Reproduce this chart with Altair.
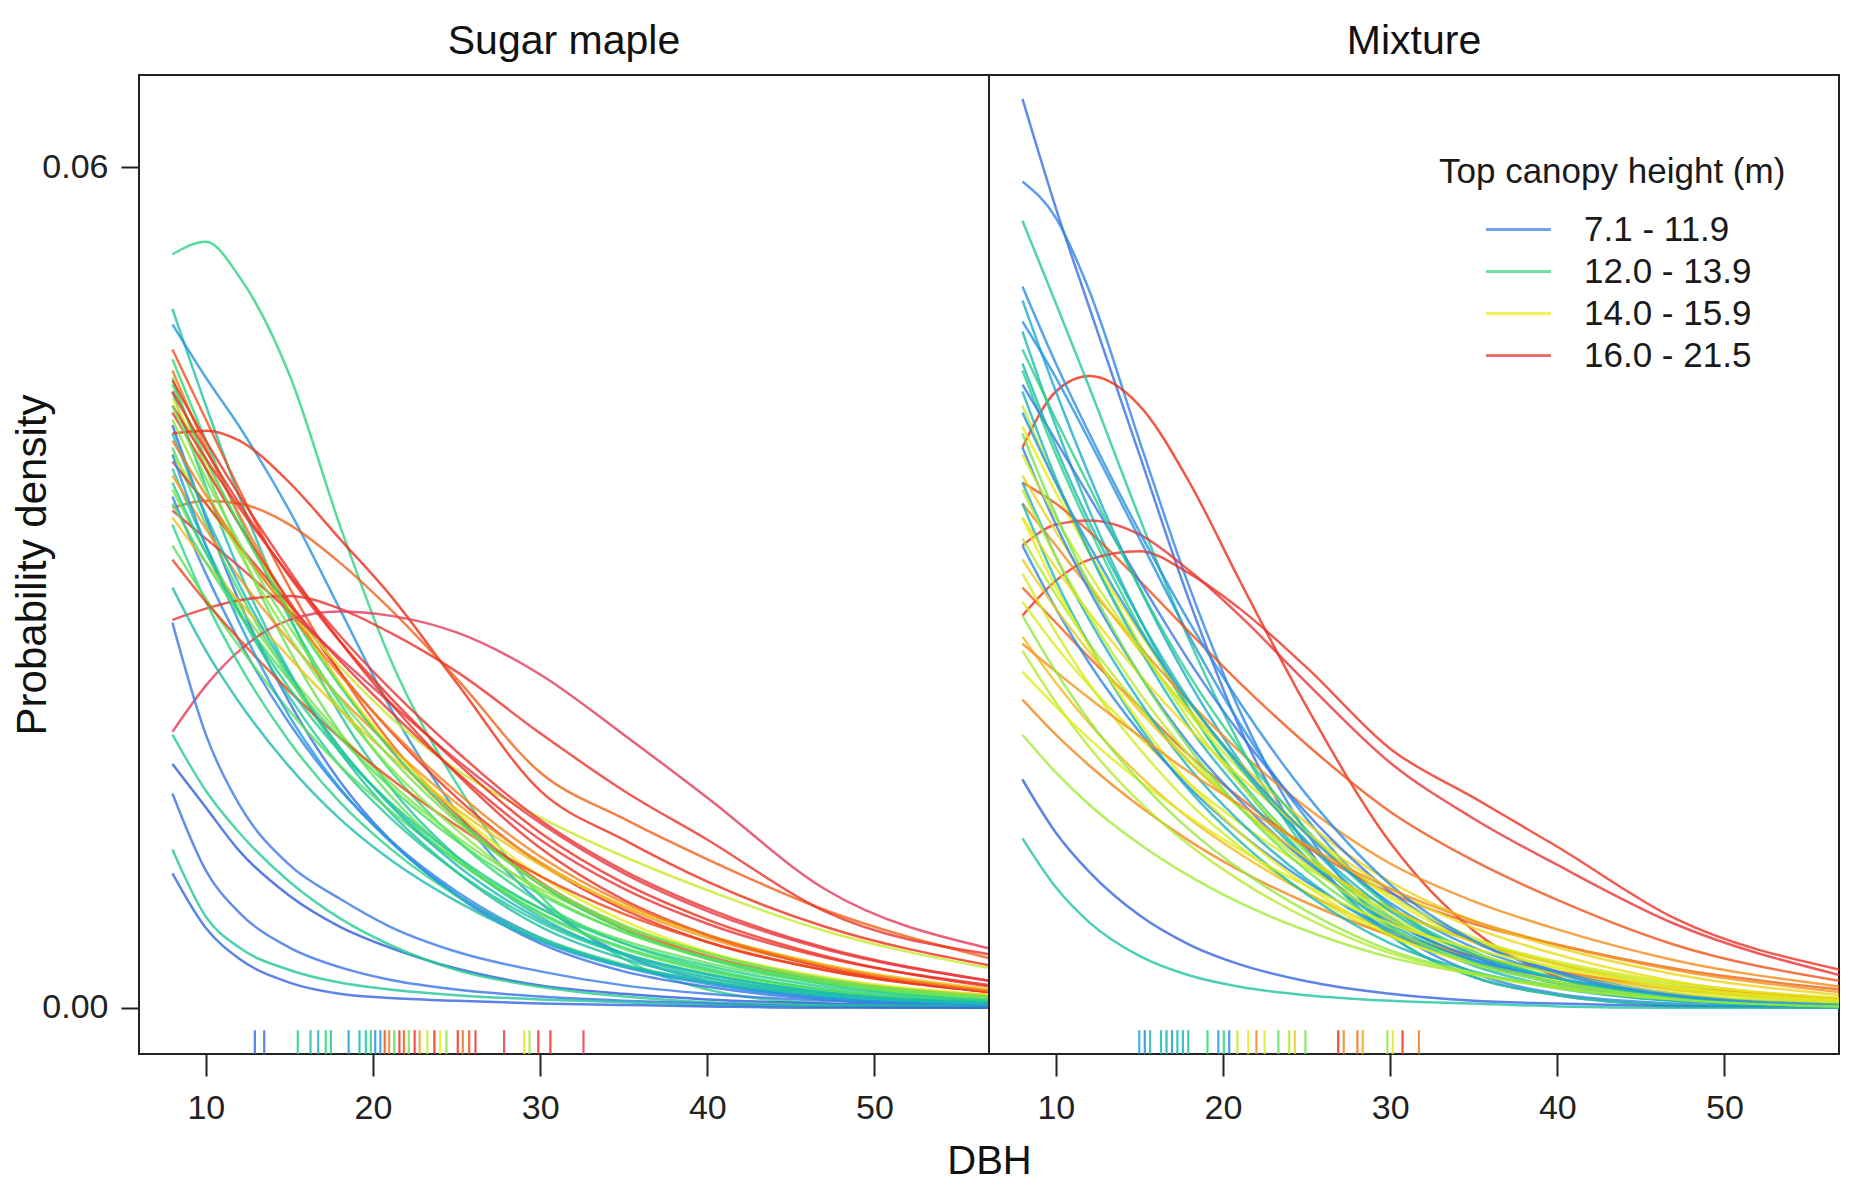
import altair as alt
import pandas as pd

FONT = "Liberation Sans"

X_GRID = [8, 10, 12, 15, 18, 21, 25, 30, 35, 40, 47, 57]

# ---------------- Sugar maple panel ----------------
SM_HEIGHT = [12.8, 12.3, 10.5, 17.0, 13.0, 16.5, 13.5, 12.2, 15.0, 18.0,
             9.0, 17.5, 16.8, 13.2, 14.5, 19.0, 12.5, 16.0, 13.7, 10.0,
             20.0, 18.5, 21.0, 9.5, 8.0, 12.6, 9.2, 12.4, 8.5, 12.8,
             13.4, 17.2, 10.8, 13.8, 12.1, 15.5, 13.1, 18.2, 12.0, 16.4,
             13.3, 17.8, 18.8, 13.6, 12.6]
SM_CURVES = [
    [0.0538, 0.0547, 0.0522, 0.0452, 0.0345, 0.0250, 0.0160, 0.0080, 0.0035, 0.0013, 0.0003, 0.0000],
    [0.0499, 0.0430, 0.0365, 0.0280, 0.0210, 0.0158, 0.0108, 0.0065, 0.0038, 0.0022, 0.0010, 0.0003],
    [0.0488, 0.0450, 0.0415, 0.0355, 0.0285, 0.0215, 0.0140, 0.0075, 0.0038, 0.0019, 0.0007, 0.0002],
    [0.0470, 0.0420, 0.0370, 0.0300, 0.0240, 0.0190, 0.0138, 0.0090, 0.0058, 0.0037, 0.0020, 0.0009],
    [0.0463, 0.0405, 0.0350, 0.0278, 0.0218, 0.0170, 0.0120, 0.0075, 0.0046, 0.0028, 0.0013, 0.0004],
    [0.0455, 0.0400, 0.0352, 0.0288, 0.0232, 0.0185, 0.0135, 0.0088, 0.0056, 0.0036, 0.0019, 0.0008],
    [0.0450, 0.0385, 0.0328, 0.0255, 0.0197, 0.0152, 0.0107, 0.0067, 0.0042, 0.0026, 0.0012, 0.0004],
    [0.0440, 0.0372, 0.0312, 0.0240, 0.0183, 0.0140, 0.0097, 0.0058, 0.0035, 0.0021, 0.0010, 0.0003],
    [0.0435, 0.0390, 0.0345, 0.0285, 0.0232, 0.0188, 0.0140, 0.0094, 0.0062, 0.0040, 0.0022, 0.0009],
    [0.0425, 0.0385, 0.0345, 0.0290, 0.0240, 0.0198, 0.0150, 0.0103, 0.0070, 0.0047, 0.0027, 0.0011],
    [0.0416, 0.0350, 0.0290, 0.0218, 0.0162, 0.0120, 0.0080, 0.0046, 0.0026, 0.0015, 0.0006, 0.0002],
    [0.0410, 0.0412, 0.0405, 0.0375, 0.0335, 0.0295, 0.0232, 0.0155, 0.0120, 0.0090, 0.0058, 0.0030],
    [0.0357, 0.0362, 0.0360, 0.0345, 0.0318, 0.0285, 0.0235, 0.0168, 0.0135, 0.0106, 0.0070, 0.0035],
    [0.0400, 0.0345, 0.0297, 0.0235, 0.0185, 0.0146, 0.0105, 0.0068, 0.0043, 0.0027, 0.0013, 0.0004],
    [0.0395, 0.0360, 0.0328, 0.0284, 0.0244, 0.0208, 0.0170, 0.0136, 0.0108, 0.0084, 0.0055, 0.0028],
    [0.0390, 0.0360, 0.0330, 0.0288, 0.0248, 0.0212, 0.0168, 0.0120, 0.0085, 0.0060, 0.0036, 0.0016],
    [0.0385, 0.0330, 0.0282, 0.0222, 0.0173, 0.0136, 0.0097, 0.0061, 0.0038, 0.0024, 0.0011, 0.0004],
    [0.0380, 0.0342, 0.0307, 0.0262, 0.0222, 0.0187, 0.0146, 0.0104, 0.0072, 0.0050, 0.0029, 0.0012],
    [0.0370, 0.0325, 0.0287, 0.0238, 0.0196, 0.0161, 0.0122, 0.0085, 0.0058, 0.0039, 0.0021, 0.0008],
    [0.0365, 0.0310, 0.0262, 0.0203, 0.0156, 0.0120, 0.0083, 0.0050, 0.0030, 0.0018, 0.0008, 0.0002],
    [0.0355, 0.0335, 0.0315, 0.0283, 0.0250, 0.0218, 0.0177, 0.0132, 0.0096, 0.0069, 0.0042, 0.0019],
    [0.0277, 0.0285, 0.0291, 0.0294, 0.0285, 0.0268, 0.0240, 0.0196, 0.0155, 0.0120, 0.0069, 0.0038],
    [0.0197, 0.0230, 0.0255, 0.0277, 0.0283, 0.0280, 0.0268, 0.0238, 0.0195, 0.0150, 0.0085, 0.0042],
    [0.0275, 0.0195, 0.0145, 0.0102, 0.0078, 0.0058, 0.0040, 0.0026, 0.0016, 0.0010, 0.0005, 0.0002],
    [0.0174, 0.0143, 0.0112, 0.0080, 0.0058, 0.0043, 0.0028, 0.0016, 0.0010, 0.0006, 0.0003, 0.0001],
    [0.0195, 0.0155, 0.0125, 0.0090, 0.0064, 0.0045, 0.0027, 0.0015, 0.0008, 0.0004, 0.0002, 0.0001],
    [0.0153, 0.0098, 0.0068, 0.0043, 0.0029, 0.0020, 0.0013, 0.0008, 0.0005, 0.0003, 0.0001, 0.0000],
    [0.0113, 0.0065, 0.0043, 0.0027, 0.0018, 0.0013, 0.0009, 0.0006, 0.0004, 0.0002, 0.0001, 0.0000],
    [0.0096, 0.0057, 0.0035, 0.0018, 0.0010, 0.0007, 0.0005, 0.0003, 0.0002, 0.0001, 0.0000, 0.0000],
    [0.0345, 0.0290, 0.0245, 0.0190, 0.0147, 0.0114, 0.0080, 0.0050, 0.0031, 0.0019, 0.0009, 0.0003],
    [0.0330, 0.0292, 0.0258, 0.0212, 0.0173, 0.0141, 0.0105, 0.0071, 0.0048, 0.0032, 0.0017, 0.0006],
    [0.0320, 0.0290, 0.0263, 0.0226, 0.0193, 0.0164, 0.0130, 0.0094, 0.0067, 0.0047, 0.0027, 0.0011],
    [0.0395, 0.0330, 0.0275, 0.0208, 0.0157, 0.0119, 0.0081, 0.0048, 0.0029, 0.0017, 0.0007, 0.0002],
    [0.0420, 0.0370, 0.0325, 0.0265, 0.0214, 0.0172, 0.0127, 0.0083, 0.0054, 0.0035, 0.0018, 0.0006],
    [0.0300, 0.0255, 0.0218, 0.0172, 0.0135, 0.0106, 0.0076, 0.0048, 0.0030, 0.0019, 0.0009, 0.0003],
    [0.0350, 0.0318, 0.0290, 0.0250, 0.0213, 0.0180, 0.0142, 0.0102, 0.0073, 0.0052, 0.0031, 0.0013],
    [0.0445, 0.0392, 0.0345, 0.0283, 0.0230, 0.0185, 0.0136, 0.0088, 0.0056, 0.0035, 0.0017, 0.0005],
    [0.0448, 0.0405, 0.0366, 0.0312, 0.0262, 0.0218, 0.0167, 0.0114, 0.0077, 0.0052, 0.0029, 0.0011],
    [0.0410, 0.0352, 0.0302, 0.0238, 0.0186, 0.0145, 0.0102, 0.0063, 0.0039, 0.0024, 0.0011, 0.0003],
    [0.0405, 0.0366, 0.0330, 0.0282, 0.0238, 0.0199, 0.0154, 0.0108, 0.0075, 0.0052, 0.0030, 0.0012],
    [0.0360, 0.0318, 0.0281, 0.0234, 0.0193, 0.0158, 0.0119, 0.0081, 0.0054, 0.0036, 0.0019, 0.0007],
    [0.0440, 0.0398, 0.0360, 0.0308, 0.0262, 0.0222, 0.0175, 0.0125, 0.0089, 0.0063, 0.0037, 0.0015],
    [0.0430, 0.0392, 0.0357, 0.0309, 0.0266, 0.0228, 0.0183, 0.0134, 0.0098, 0.0071, 0.0043, 0.0019],
    [0.0430, 0.0378, 0.0332, 0.0272, 0.0221, 0.0179, 0.0133, 0.0089, 0.0059, 0.0039, 0.0020, 0.0007],
    [0.0375, 0.0325, 0.0283, 0.0228, 0.0183, 0.0147, 0.0108, 0.0071, 0.0046, 0.0030, 0.0015, 0.0005],
]
SM_RUG_DBH = [12.93, 13.49, 15.50, 16.26, 16.72, 17.17, 17.48, 18.54, 19.19, 19.57,
              19.87, 20.13, 20.44, 20.70, 20.97, 21.27, 21.58, 21.85, 22.14, 22.49,
              22.79, 23.25, 23.67, 24.01, 24.39, 25.07, 25.37, 25.75, 26.13, 27.84,
              29.05, 29.36, 29.89, 30.61, 32.59]
SM_RUG_H = [9.0, 9.5, 12.8, 12.2, 11.8, 13.0, 12.4, 11.0, 12.0, 12.3,
            12.9, 10.5, 10.8, 17.0, 16.3, 13.3, 18.0, 16.8, 13.6, 19.0,
            16.0, 14.5, 17.5, 15.0, 13.8, 18.5, 16.5, 17.0, 19.5, 20.0,
            15.2, 14.0, 18.0, 17.8, 21.0]

# ---------------- Mixture panel ----------------
MIX_HEIGHT = [9.0, 10.0, 17.5, 12.5, 11.5, 10.5, 12.0, 12.8, 14.5, 15.0,
              18.0, 19.0, 17.0, 16.2, 16.8, 15.3, 14.2, 14.8, 14.7, 15.6,
              16.3, 14.0, 8.5, 12.3, 11.8, 9.8, 12.0, 10.2, 14.3, 9.5,
              12.7, 14.6, 11.7, 15.2, 10.6, 15.0, 15.4, 14.4, 13.6, 11.9,
              10.3, 16.1, 14.9, 13.9]
MIX_CURVES = [
    [0.0649, 0.0571, 0.0500, 0.0395, 0.0290, 0.0200, 0.0115, 0.0052, 0.0022, 0.0009, 0.0002, 0.0000],
    [0.0590, 0.0564, 0.0512, 0.0405, 0.0300, 0.0212, 0.0125, 0.0058, 0.0025, 0.0010, 0.0003, 0.0000],
    [0.0400, 0.0440, 0.0451, 0.0430, 0.0375, 0.0305, 0.0215, 0.0118, 0.0055, 0.0022, 0.0006, 0.0001],
    [0.0562, 0.0503, 0.0443, 0.0350, 0.0262, 0.0188, 0.0112, 0.0052, 0.0022, 0.0009, 0.0002, 0.0000],
    [0.0505, 0.0440, 0.0380, 0.0300, 0.0232, 0.0176, 0.0118, 0.0065, 0.0034, 0.0017, 0.0006, 0.0001],
    [0.0490, 0.0450, 0.0405, 0.0335, 0.0265, 0.0203, 0.0135, 0.0073, 0.0037, 0.0018, 0.0006, 0.0001],
    [0.0483, 0.0415, 0.0355, 0.0278, 0.0213, 0.0161, 0.0107, 0.0058, 0.0030, 0.0015, 0.0005, 0.0001],
    [0.0455, 0.0395, 0.0342, 0.0272, 0.0212, 0.0163, 0.0111, 0.0063, 0.0034, 0.0018, 0.0007, 0.0001],
    [0.0430, 0.0375, 0.0325, 0.0260, 0.0205, 0.0160, 0.0111, 0.0066, 0.0038, 0.0021, 0.0008, 0.0002],
    [0.0415, 0.0368, 0.0325, 0.0268, 0.0217, 0.0174, 0.0125, 0.0078, 0.0047, 0.0028, 0.0012, 0.0003],
    [0.0280, 0.0305, 0.0320, 0.0326, 0.0310, 0.0285, 0.0243, 0.0185, 0.0150, 0.0115, 0.0064, 0.0027],
    [0.0330, 0.0345, 0.0348, 0.0338, 0.0312, 0.0280, 0.0232, 0.0175, 0.0135, 0.0102, 0.0060, 0.0023],
    [0.0375, 0.0360, 0.0340, 0.0305, 0.0268, 0.0232, 0.0188, 0.0140, 0.0105, 0.0077, 0.0045, 0.0019],
    [0.0360, 0.0330, 0.0300, 0.0258, 0.0218, 0.0183, 0.0143, 0.0103, 0.0076, 0.0056, 0.0034, 0.0015],
    [0.0300, 0.0275, 0.0250, 0.0215, 0.0180, 0.0150, 0.0115, 0.0082, 0.0060, 0.0045, 0.0028, 0.0013],
    [0.0380, 0.0340, 0.0303, 0.0255, 0.0212, 0.0175, 0.0132, 0.0090, 0.0062, 0.0043, 0.0024, 0.0009],
    [0.0335, 0.0295, 0.0260, 0.0215, 0.0176, 0.0143, 0.0106, 0.0071, 0.0048, 0.0032, 0.0017, 0.0006],
    [0.0290, 0.0258, 0.0230, 0.0193, 0.0160, 0.0132, 0.0100, 0.0069, 0.0048, 0.0033, 0.0018, 0.0007],
    [0.0310, 0.0268, 0.0231, 0.0185, 0.0146, 0.0115, 0.0082, 0.0051, 0.0032, 0.0020, 0.0009, 0.0002],
    [0.0265, 0.0232, 0.0203, 0.0166, 0.0135, 0.0110, 0.0082, 0.0055, 0.0037, 0.0025, 0.0013, 0.0005],
    [0.0220, 0.0195, 0.0173, 0.0144, 0.0119, 0.0098, 0.0075, 0.0052, 0.0037, 0.0026, 0.0015, 0.0006],
    [0.0195, 0.0168, 0.0145, 0.0117, 0.0094, 0.0075, 0.0055, 0.0036, 0.0024, 0.0016, 0.0008, 0.0003],
    [0.0163, 0.0125, 0.0097, 0.0066, 0.0045, 0.0031, 0.0019, 0.0010, 0.0005, 0.0003, 0.0001, 0.0000],
    [0.0121, 0.0086, 0.0061, 0.0037, 0.0023, 0.0015, 0.0009, 0.0005, 0.0003, 0.0001, 0.0000, 0.0000],
    [0.0440, 0.0378, 0.0325, 0.0257, 0.0200, 0.0155, 0.0106, 0.0060, 0.0033, 0.0018, 0.0007, 0.0001],
    [0.0400, 0.0345, 0.0298, 0.0238, 0.0188, 0.0148, 0.0104, 0.0062, 0.0036, 0.0021, 0.0009, 0.0002],
    [0.0360, 0.0305, 0.0259, 0.0201, 0.0155, 0.0119, 0.0081, 0.0046, 0.0026, 0.0014, 0.0005, 0.0001],
    [0.0330, 0.0285, 0.0246, 0.0197, 0.0157, 0.0125, 0.0090, 0.0056, 0.0034, 0.0021, 0.0009, 0.0002],
    [0.0255, 0.0218, 0.0186, 0.0147, 0.0116, 0.0091, 0.0064, 0.0039, 0.0024, 0.0014, 0.0006, 0.0001],
    [0.0445, 0.0405, 0.0365, 0.0305, 0.0247, 0.0196, 0.0139, 0.0083, 0.0047, 0.0026, 0.0010, 0.0002],
    [0.0470, 0.0420, 0.0372, 0.0300, 0.0237, 0.0185, 0.0127, 0.0072, 0.0040, 0.0021, 0.0008, 0.0001],
    [0.0395, 0.0350, 0.0310, 0.0257, 0.0210, 0.0170, 0.0124, 0.0080, 0.0050, 0.0031, 0.0014, 0.0004],
    [0.0375, 0.0322, 0.0277, 0.0219, 0.0171, 0.0133, 0.0092, 0.0054, 0.0031, 0.0018, 0.0007, 0.0001],
    [0.0350, 0.0314, 0.0282, 0.0238, 0.0199, 0.0165, 0.0125, 0.0085, 0.0057, 0.0038, 0.0019, 0.0006],
    [0.0425, 0.0375, 0.0330, 0.0270, 0.0218, 0.0174, 0.0124, 0.0075, 0.0043, 0.0024, 0.0009, 0.0002],
    [0.0350, 0.0300, 0.0258, 0.0204, 0.0160, 0.0125, 0.0087, 0.0052, 0.0031, 0.0018, 0.0007, 0.0001],
    [0.0320, 0.0285, 0.0254, 0.0212, 0.0175, 0.0143, 0.0107, 0.0071, 0.0047, 0.0031, 0.0015, 0.0005],
    [0.0370, 0.0322, 0.0280, 0.0225, 0.0180, 0.0143, 0.0102, 0.0063, 0.0039, 0.0024, 0.0010, 0.0003],
    [0.0410, 0.0352, 0.0302, 0.0238, 0.0185, 0.0143, 0.0098, 0.0057, 0.0032, 0.0018, 0.0007, 0.0001],
    [0.0460, 0.0400, 0.0347, 0.0278, 0.0219, 0.0172, 0.0119, 0.0069, 0.0038, 0.0021, 0.0008, 0.0001],
    [0.0515, 0.0460, 0.0410, 0.0340, 0.0275, 0.0218, 0.0152, 0.0088, 0.0048, 0.0025, 0.0009, 0.0002],
    [0.0260, 0.0240, 0.0221, 0.0194, 0.0168, 0.0145, 0.0116, 0.0085, 0.0062, 0.0045, 0.0027, 0.0011],
    [0.0240, 0.0215, 0.0192, 0.0162, 0.0136, 0.0113, 0.0087, 0.0060, 0.0042, 0.0029, 0.0015, 0.0005],
    [0.0280, 0.0240, 0.0205, 0.0162, 0.0127, 0.0099, 0.0069, 0.0041, 0.0025, 0.0015, 0.0006, 0.0001],
]
MIX_RUG_DBH = [14.99, 15.32, 15.64, 16.29, 16.62, 16.95, 17.27, 17.60, 17.92, 19.07,
               19.72, 20.05, 20.37, 20.86, 21.51, 22.00, 22.49, 23.31, 23.96, 24.29,
               24.93, 26.89, 27.22, 28.04, 28.36, 29.83, 30.15, 30.74, 31.72]
MIX_RUG_H = [11.5, 10.2, 11.8, 12.1, 11.7, 10.6, 12.0, 11.9, 12.2, 13.0,
             10.8, 12.9, 10.5, 14.3, 15.0, 16.2, 14.8, 13.4, 14.2, 15.4,
             13.6, 17.5, 16.3, 16.6, 15.8, 13.8, 15.1, 18.5, 16.4]

LEGEND_VALUES = [9.5, 13.0, 15.0, 18.75]
LEGEND_LABELS = ["7.1 - 11.9", "12.0 - 13.9", "14.0 - 15.9", "16.0 - 21.5"]

# ---------------- styling ----------------
COLOR_DOMAIN = [7.1, 9.5, 11.0, 12.0, 13.0, 14.0, 15.0, 16.0, 17.5, 21.5]
COLOR_RANGE = ["#2a48d8", "#3a78e8", "#1f9fdf", "#1bb9b4", "#2ed978",
               "#a2ea38", "#e8ec18", "#f39a1c", "#ee3018", "#e23c64"]
X_DOMAIN = [6.0, 56.85]
Y_DOMAIN = [-0.0033, 0.0666]
PANEL_W, PANEL_H = 850, 979


def curves_frame(heights, curves):
    rows = []
    for i, (h, ys) in enumerate(zip(heights, curves)):
        for x, y in zip(X_GRID, ys):
            rows.append({"id": i, "h": h, "x": x, "y": y})
    return pd.DataFrame(rows)


def rug_frame(dbh, hs):
    return pd.DataFrame({"x": dbh, "h": hs})


label_expr = " : ".join(
    f"datum.value == {v} ? '{lab}'" for v, lab in zip(LEGEND_VALUES[:-1], LEGEND_LABELS[:-1])
) + f" : '{LEGEND_LABELS[-1]}'"


def panel(curves_df, rug_df, title, left):
    xscale = alt.Scale(domain=X_DOMAIN, nice=False, zero=False)
    yscale = alt.Scale(domain=Y_DOMAIN, nice=False, zero=False)
    cscale = alt.Scale(domain=COLOR_DOMAIN, range=COLOR_RANGE, interpolate="rgb")
    common = dict(grid=False, domain=False, tickColor="#222222", tickWidth=2,
                  labelFontSize=34, labelFont=FONT, labelColor="#222222",
                  titleFont=FONT, titleFontWeight="normal", titleColor="#111111")
    if left:
        xaxis = alt.Axis(values=[10, 20, 30, 40, 50], title="DBH", titleX=PANEL_W,
                         titleY=119, titleAlign="center", titleBaseline="alphabetic",
                         titleFontSize=40, tickSize=22, labelPadding=15, **common)
        yaxis = alt.Axis(values=[0.0, 0.06], format=".2f", title="Probability density",
                         titleAngle=270, titleX=-94, titleBaseline="alphabetic",
                         titleAlign="center", titleFontSize=42, tickSize=18,
                         labelPadding=13, **common)
        legend = None
    else:
        xaxis = alt.Axis(values=[10, 20, 30, 40, 50], title=None, tickSize=22,
                         labelPadding=15, **common)
        yaxis = None
        legend = alt.Legend(
            title="Top canopy height (m)", type="symbol", values=LEGEND_VALUES,
            labelExpr=label_expr, orient="none", legendX=450, legendY=80,
            direction="vertical", symbolType="M-3,0H3", symbolSize=470,
            symbolStrokeWidth=3, symbolOpacity=0.7, symbolOffset=62, labelOffset=48,
            titleFontSize=35, labelFontSize=35, titleFont=FONT, labelFont=FONT,
            titleFontWeight="normal", titleColor="#1a1a1a", labelColor="#1a1a1a",
            titlePadding=22, rowPadding=6, titleLimit=600, labelLimit=400,
        )
    color = alt.Color("h:Q", scale=cscale, legend=legend)
    lines = alt.Chart(curves_df).mark_line(
        interpolate="monotone", clip=True, strokeWidth=2.5, opacity=0.8
    ).encode(
        x=alt.X("x:Q", scale=xscale, axis=xaxis),
        y=alt.Y("y:Q", scale=yscale, axis=yaxis),
        color=color,
        detail="id:N",
    )
    rug = alt.Chart(rug_df).mark_rule(strokeWidth=2.2, opacity=0.85).encode(
        x=alt.X("x:Q", scale=xscale),
        y=alt.datum(-0.0016),
        y2=alt.datum(Y_DOMAIN[0]),
        color=color,
    )
    return alt.layer(lines, rug).properties(
        width=PANEL_W, height=PANEL_H,
        title=alt.TitleParams(title, fontSize=41, fontWeight="normal", font=FONT,
                              baseline="alphabetic", offset=-20, anchor="middle",
                              color="#111111"),
    )


left = panel(curves_frame(SM_HEIGHT, SM_CURVES), rug_frame(SM_RUG_DBH, SM_RUG_H), "Sugar maple", True)
right = panel(curves_frame(MIX_HEIGHT, MIX_CURVES), rug_frame(MIX_RUG_DBH, MIX_RUG_H), "Mixture", False)

chart = alt.hconcat(left, right, spacing=0, bounds="flush").resolve_scale(
    color="independent"
).resolve_legend(color="independent").properties(
    padding={"left": 2, "top": 12, "right": 0, "bottom": 0}
).configure_view(
    stroke="#222222", strokeWidth=2
).configure_axis(
    grid=False, domain=False
)

chart.save("out.html", embed_options={"renderer": "svg", "actions": False})
